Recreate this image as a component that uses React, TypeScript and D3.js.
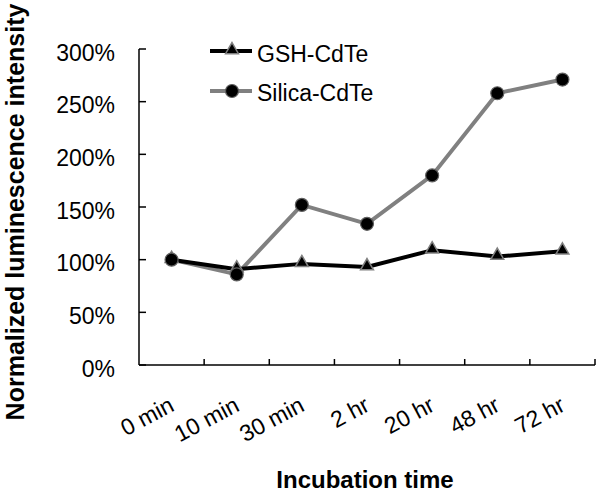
import React from "react";
import * as d3 from "d3";

const categories = ["0 min", "10 min", "30 min", "2 hr", "20 hr", "48 hr", "72 hr"];
const gshValues = [100, 91, 96, 93, 109, 103, 108];
const silicaValues = [100, 86, 152, 134, 180, 258, 271];
const yTicks = [0, 50, 100, 150, 200, 250, 300];

const W = 605, H = 497;
const left = 139, right = 595, top = 49, bottom = 365;

export default function App() {
  const x = d3.scaleBand<string>().domain(categories).range([left, right]);
  const y = d3.scaleLinear().domain([0, 300]).range([bottom, top]);
  const cx = (c: string) => (x(c) as number) + x.bandwidth() / 2;
  const line = d3.line<number>().x((_, i) => cx(categories[i])).y((v) => y(v));
  const tri = d3.symbol().type(d3.symbolTriangle).size(72)();
  const font = "Arial, 'Liberation Sans', sans-serif";
  const fs = 23;
  return (
    <svg width={W} height={H} style={{ position: "absolute", left: 0, top: 0, background: "#fff" }} fontFamily={font}>
      {/* axes */}
      <line x1={left} x2={left} y1={top} y2={bottom} stroke="#000" strokeWidth={1.5} />
      <line x1={left} x2={right} y1={bottom} y2={bottom} stroke="#000" strokeWidth={1.5} />
      {yTicks.map((t) => (
        <g key={t}>
          <line x1={left} x2={left + 7} y1={y(t)} y2={y(t)} stroke="#000" strokeWidth={1.5} />
          <text x={115} y={y(t)} dy="0.5em" textAnchor="end" fontSize={fs}>{t}%</text>
        </g>
      ))}
      {categories.map((c) => (
        <line key={c} x1={(x(c) as number) + x.bandwidth()} x2={(x(c) as number) + x.bandwidth()} y1={bottom} y2={bottom - 6} stroke="#000" strokeWidth={1.5} />
      ))}
      {categories.map((c) => (
        <text key={c} transform={`translate(${cx(c) + 4},${bottom + 45}) rotate(-28)`} textAnchor="end" fontSize={fs}>{c}</text>
      ))}
      <text x={365} y={488} textAnchor="middle" fontSize={24} fontWeight="bold">Incubation time</text>
      <text transform={`translate(24,212) rotate(-90)`} textAnchor="middle" fontSize={25} fontWeight="bold">Normalized luminescence intensity</text>

      {/* series */}
      <path d={line(silicaValues) || ""} fill="none" stroke="#808080" strokeWidth={4} />
      <path d={line(gshValues) || ""} fill="none" stroke="#000" strokeWidth={4} />
      {gshValues.map((v, i) => (
        <path key={i} d={tri || ""} transform={`translate(${cx(categories[i])},${y(v) - 1})`} fill="#000" stroke="#808080" strokeWidth={1.5} />
      ))}
      {silicaValues.map((v, i) => (
        <circle key={i} cx={cx(categories[i])} cy={y(v)} r={6.5} fill="#000" stroke="#606060" strokeWidth={1.2} />
      ))}

      {/* legend */}
      <line x1={210} x2={252} y1={51} y2={51} stroke="#000" strokeWidth={4} />
      <path d={tri || ""} transform="translate(232,50)" fill="#000" stroke="#808080" strokeWidth={1.5} />
      <text x={257} y={54} dy="0.35em" fontSize={fs}>GSH-CdTe</text>
      <line x1={210} x2={252} y1={91} y2={91} stroke="#808080" strokeWidth={4} />
      <circle cx={232} cy={91} r={6.5} fill="#000" stroke="#606060" strokeWidth={1.2} />
      <text x={257} y={92.5} dy="0.35em" fontSize={fs}>Silica-CdTe</text>
    </svg>
  );
}
